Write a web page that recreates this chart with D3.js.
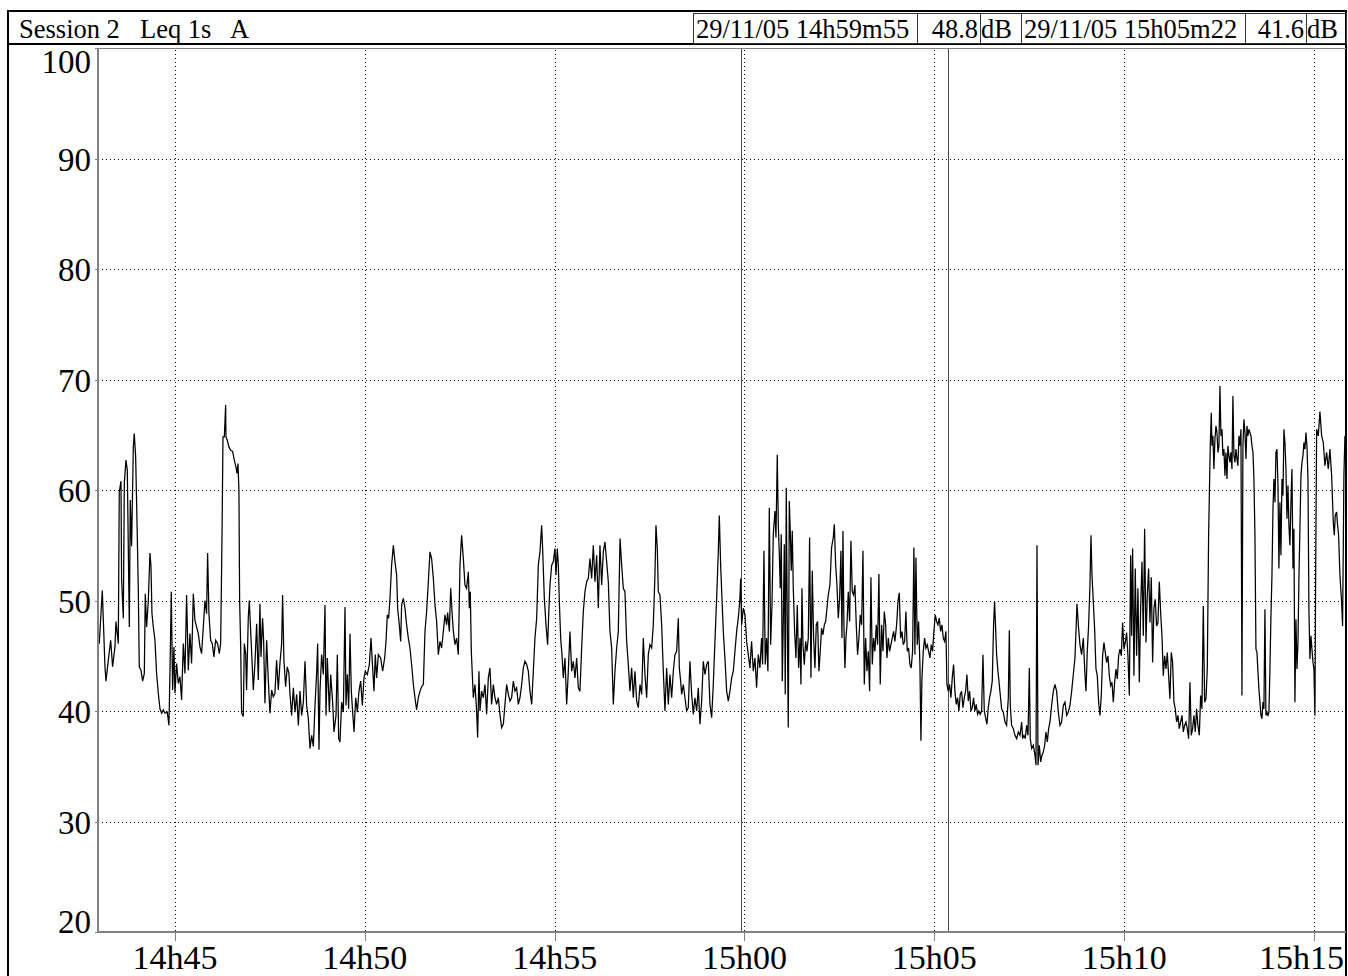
<!DOCTYPE html>
<meta charset="utf-8">
<style>
body { margin: 0; background: #fff; }
svg { display: block; font-family: "Liberation Serif", "Times New Roman", serif; }
.grid line { stroke: #000; stroke-width: 1; stroke-dasharray: 1,3; shape-rendering: crispEdges; }
.frame { stroke: #000; stroke-width: 2; fill: none; shape-rendering: crispEdges; }
.plotline { stroke: #808080; stroke-width: 1.5; shape-rendering: crispEdges; }
.box { fill: none; stroke: #333; stroke-width: 1; shape-rendering: crispEdges; }
.cursor { stroke: #4a4a4a; stroke-width: 1; shape-rendering: crispEdges; }
.trace { fill: none; stroke: #000; stroke-width: 1.25; stroke-linejoin: miter; }
</style>
<svg width="1348" height="976"></svg>
<script src="https://cdn.jsdelivr.net/npm/d3@7"></script>
<script>

// Leq 1s (dB(A)), time in seconds after 14h40m00
var trace14h43 = [[180.4,46.1],[185.2,50.9],[189.4,44.0],[191,42.7],[194.7,44.6],[198.4,46.4],[201.5,44.0],[205.2,45.8],[206.8,48.1],[210.5,46.1],[212,59.8],[214.7,60.8],[215.7,51.9],[218.4,48.4],[220,60.6],[222.6,62.7],[224.7,61.8],[227.9,47.6],[229.4,59.1],[231.5,54.9],[234.2,63.9],[235.7,65.1],[237.9,63.0],[240.5,55.8],[242.1,50.9],[243.6,44.0],[246.3,43.7],[248.9,42.7],[251.6,43.4],[253.1,50.6],[255.2,47.6],[257.9,50.0],[260.5,54.3],[262.1,53.1],[263.7,48.8],[265.8,47.6],[268.4,46.4],[271,43.4],[273.7,41.6],[276.3,40.2],[279,39.8],[281.6,40.1],[284.2,39.8],[287.9,39.9],[290.5,38.7],[292.1,43.4],[294.2,50.8],[296.3,41.9],[298.4,45.8],[300,41.6],[302.6,44.3],[305.3,42.5],[307.9,43.1],[310.5,41.0],[313.2,46.1],[315.8,43.4],[318.4,50.5],[321.1,43.7],[323.7,47.0],[326.3,44.3],[329,50.6],[331.6,48.2],[336.9,47.0],[339.5,45.8],[342.1,45.2],[344.8,47.6],[347.4,50.0],[350,48.8],[351.6,54.3],[353.7,48.8],[356.4,46.4],[359,46.1],[361.6,44.9],[364.3,46.4],[367.4,46.1],[370.1,45.2],[372.2,46.1],[374.3,55.5],[375.9,64.8],[378,64.8],[380.1,67.7],[380.6,64.8],[382.7,64.5],[385.3,63.9],[388,63.6],[391.1,63.5],[393.8,62.7],[396.4,62.1],[398,61.5],[399.6,62.4],[401.1,60.0],[402.2,50.0],[403.8,46.1],[405.3,39.8],[408,39.5],[409.6,46.1],[411.7,45.2],[413.2,41.9],[415.9,48.5],[417.5,50.0],[419.6,47.3],[422.2,44.0],[423.8,41.9],[426.4,44.3],[429.1,47.9],[431.7,42.8],[434.3,49.7],[435.9,44.9],[438.5,48.4],[440.1,46.4],[442.2,40.7],[444.9,46.4],[447.5,42.8],[450.1,39.8],[452.8,41.9],[455.4,41.3],[458,41.6],[460.6,44.6],[463.3,41.9],[465.9,44.3],[468.6,46.1],[470.1,50.5],[472.2,44.6],[474.9,42.2],[477.5,44.0],[480.1,43.4],[481.7,41.6],[484.4,39.6],[487.1,42.1],[489.7,39.9],[492.3,41.5],[495,38.7],[497.6,41.8],[500.2,39.6],[502.9,40.8],[505.5,44.5],[508.1,40.5],[510.8,39.3],[513.4,36.6],[516,37.8],[518.7,36.8],[521.3,40.5],[524,43.6],[525.5,46.1],[527.6,36.5],[529.2,41.8],[531.8,45.1],[534.5,43.3],[537.1,49.6],[538.7,39.6],[540.8,44.8],[544,39.9],[546.1,43.3],[549.2,40.8],[551.3,38.1],[554.5,39.6],[556.6,45.1],[558.7,37.5],[560.8,37.2],[563.4,40.8],[566.1,39.9],[568.7,49.4],[570.3,40.5],[572.4,43.3],[574.5,40.2],[576.6,47.0],[578.7,41.8],[580.8,39.9],[583,38.1],[585.6,41.2],[588.2,39.9],[590.8,41.8],[593.5,42.7],[596.1,40.5],[598.7,43.0],[600.8,43.6],[604,43.3],[607.2,44.2],[609.8,46.6],[612.4,43.9],[614.5,41.8],[616.6,45.1],[618.7,43.0],[621.4,45.1],[625.1,44.8],[628.2,43.6],[631.4,44.8],[633.5,46.3],[635.6,48.7],[637.7,48.4]];

var trace14h50 = [[639.8,50.2],[642.4,53.2],[645.1,55.0],[647.7,53.5],[650.3,52.3],[651.9,49.3],[654.5,47.8],[656.7,46.3],[658.2,49.6],[660.9,50.2],[663.5,49.3],[666.1,47.8],[668.8,46.6],[671.4,45.7],[674,44.2],[676.7,42.4],[679.3,41.2],[681.9,40.1],[684.6,41.2],[687.2,41.8],[689.8,42.2],[692.5,42.4],[695.1,47.2],[697.7,49.0],[700.4,51.7],[703,54.4],[705.6,53.8],[708.3,52.0],[710.9,49.6],[713.5,48.1],[716.2,45.1],[718.8,46.3],[721.4,45.7],[724.1,47.2],[726.7,48.7],[729.3,47.8],[730.9,48.9],[733.6,47.2],[735.7,51.1],[737.8,49.0],[739.9,47.2],[742.5,46.0],[745.1,46.6],[747.8,45.1],[750.4,53.2],[753,55.9],[755.7,53.8],[758.3,51.4],[760.9,51.1],[763.6,52.6],[765.2,49.3],[766.7,50.8],[768.3,45.4],[771.5,41.2],[774.1,42.4],[776.7,40.0],[778.3,37.6],[780.4,43.6],[782,40.0],[784.6,41.8],[787.3,41.2],[789.9,42.4],[792.5,39.7],[795.2,43.0],[797.8,43.9],[800.4,40.6],[803.1,42.4],[805.7,41.2],[808.3,40.6],[811,41.2],[813.6,39.7],[816.2,38.5],[818.9,38.8],[821.5,40.6],[824.1,42.4],[826.8,41.5],[829.4,40.9],[832,41.2],[834.7,42.7],[837.3,41.8],[839.9,42.1],[842.6,40.6],[845.2,41.2],[847.9,42.4],[850.5,43.9],[853.1,44.5],[855.8,44.2],[858.4,43.6],[861,41.8],[863.7,40.6],[866.3,43.6],[868.9,46.6],[871.6,48.4],[874.2,53.2],[876.8,54.4],[879.5,56.8],[881,54.7],[883.7,50.2],[886.3,47.8],[888.9,46.0],[891,49.3],[892.6,51.4],[895.3,53.2],[897.9,53.5],[900.5,54.7],[902.1,52.3],[904.2,54.7],[905.8,53.2],[907.4,49.9],[909.5,46.6],[911.6,45.1],[913.7,43.0],[916.3,44.8],[919,40.6],[921.6,43.6],[924.2,47.2],[926.9,43.6],[929.5,44.5],[932.1,43.0],[934.8,44.8],[937.4,42.1],[940,41.8],[942.7,45.7],[945.3,49.0],[947.9,50.8],[950.6,51.7],[953.2,52.0],[955.8,53.8],[958.5,52.0],[961.1,55.0],[963.7,51.7],[966.4,54.1],[969,49.3],[971.6,55.0],[974.3,51.4],[976.9,54.4],[979.5,55.3],[982.2,53.5],[984.8,51.7],[987.4,47.2],[990.1,45.7],[992.7,40.6],[995.3,43.6],[998,45.7],[1000.6,47.2],[1003.3,55.6],[1005.9,53.2],[1008.5,51.1],[1011.1,50.8],[1013.8,46.3],[1016.4,44.2],[1019,41.8],[1021.7,43.9],[1024.3,41.2],[1026.9,43.6],[1029.6,40.9],[1032.2,40.3],[1034.9,42.4],[1037.5,41.5],[1040.1,46.6],[1042.7,43.3],[1045.4,41.2],[1048,45.1],[1050.6,46.0],[1053.3,45.7],[1055.9,47.8],[1058.5,52.3],[1060.1,56.8],[1062.2,54.7],[1063.8,50.8],[1066.4,50.5],[1069.1,47.8],[1071.7,43.6],[1074.3,40.0],[1077,43.9],[1079.6,40.6],[1082.2,43.3],[1084.9,41.2],[1087.5,43.6],[1090.1,45.1],[1092.8,45.4],[1095.4,48.4],[1097,43.9],[1099.1,42.7],[1100.7,41.5],[1103.3,42.4],[1105.9,41.2],[1108.6,40.0],[1111.2,40.3],[1113.8,44.5],[1116.5,41.5],[1119.1,39.7],[1121.7,41.2],[1124.4,40.0],[1127,42.1],[1129.6,38.8],[1132.3,40.9],[1134.9,44.5],[1137.5,43.3],[1140.2,44.2],[1142.8,44.5],[1145.4,40.6],[1148.1,39.4],[1150.7,42.4],[1153.3,46.3],[1156,50.2],[1158.6,54.4],[1160.2,57.7],[1162.3,53.2],[1164.4,50.2],[1166.5,47.2],[1169.1,44.8],[1171.8,41.8],[1174.4,40.9],[1177,41.8],[1179.7,43.0],[1182.3,43.6],[1184.9,45.4],[1187.6,47.2],[1190.2,48.4],[1192.8,50.2],[1193.9,52.0],[1195.5,47.8],[1198.1,49.3],[1200.7,48.7],[1203.4,46.3]];

var trace15h00 = [[1206,45.1],[1208.6,43.9],[1211.2,46.3],[1213.9,43.6],[1216.5,44.8],[1219.1,42.1],[1221.8,45.1],[1224.4,43.9],[1227,46.6],[1228.6,44.2],[1230.7,54.5],[1232.8,44.2],[1234.9,46.6],[1237,43.6],[1239.2,58.4],[1241.3,46.0],[1243.4,49.6],[1245.5,56.0],[1248.1,58.1],[1249.7,55.7],[1251.8,63.2],[1253.4,56.9],[1255,54.2],[1256.5,51.1],[1258.1,56.0],[1259.7,42.7],[1261.3,48.1],[1262.9,55.1],[1264.4,41.5],[1266,60.2],[1267.6,48.1],[1269.2,38.5],[1270.8,59.0],[1272.3,56.3],[1273.9,52.7],[1275.5,56.3],[1277.1,51.1],[1279.2,47.2],[1281.3,44.8],[1283.4,49.6],[1285.5,43.9],[1287.7,46.6],[1289.2,42.4],[1290.8,51.1],[1292.4,46.0],[1294.5,44.2],[1296.6,46.3],[1298.7,45.4],[1300.8,46.6],[1302.9,55.7],[1305,43.0],[1307.1,52.7],[1309.2,46.6],[1311.3,43.9],[1313.4,47.8],[1315.5,48.1],[1317.6,43.6],[1319.7,45.4],[1321.8,47.5],[1324,46.9],[1326.1,47.8],[1328.2,48.1],[1330.3,49.3],[1332.4,50.5],[1335,51.4],[1337.6,54.8],[1340.3,55.7],[1341.9,56.9],[1344,53.3],[1346.1,51.4],[1348.2,48.4],[1350.3,50.2],[1352.4,54.5],[1354,46.6],[1355.6,56.3],[1357.1,47.8],[1358.7,43.9],[1360.3,46.6],[1361.9,47.8],[1364,50.8],[1366.1,48.1],[1368.2,55.4],[1370.3,50.8],[1372.4,50.5],[1374.5,51.4],[1376.6,47.8],[1378.7,45.1],[1380.8,46.6],[1382.9,48.7],[1385.1,47.8],[1387.2,54.5],[1389.3,42.4],[1391.4,46.6],[1393.5,43.6],[1395.6,45.4],[1397.7,41.8],[1399.8,52.1],[1401.9,44.2],[1404,46.6],[1406.1,45.4],[1408.2,47.8],[1410.3,46.0],[1412.4,52.4],[1414.5,42.4],[1416.7,47.8],[1418.8,45.4],[1420.9,49.0],[1423,47.8],[1425.1,44.8],[1427.2,46.6],[1429.3,45.4],[1431.4,46.0],[1433.5,46.6],[1435.6,47.2],[1437.7,46.3],[1440.4,47.8],[1442.5,49.9],[1444.6,50.7],[1446.7,46.6],[1448.8,47.2],[1450.9,46.0],[1453,46.3],[1455.1,49.0],[1457.2,45.4],[1459.3,45.7],[1461.4,44.2],[1463.5,43.9],[1465.6,45.4],[1467.7,54.8],[1469.3,45.1],[1470.9,53.9],[1473,46.0],[1475.1,48.1],[1477.2,44.2],[1478.8,37.3],[1480.4,43.0],[1482.5,45.4],[1484.6,46.6],[1486.7,45.7],[1488.8,46.0],[1490.9,45.4],[1493,44.8],[1495.1,46.0],[1497.2,45.4],[1499.3,47.2],[1501.4,48.7],[1503.6,48.1],[1505.7,47.8],[1507.8,48.4],[1509.9,47.2],[1512,47.8],[1514.1,46.6],[1516.2,46.3],[1518.3,47.2],[1519.9,42.4],[1522,41.8],[1524.1,42.4],[1526.2,41.2],[1528.3,43.0],[1530.4,44.2],[1532.5,41.8],[1534.6,40.6],[1536.7,41.2],[1538.8,40.0],[1540.9,41.5],[1543,41.8],[1545.2,40.3],[1547.3,41.2],[1549.4,41.8],[1551.5,43.3],[1553.6,40.9],[1555.7,41.8],[1557.8,40.0],[1559.9,40.3],[1562,41.2],[1564.1,40.0],[1566.2,40.6],[1568.3,39.7],[1570.4,40.0],[1572.5,39.7],[1574.7,40.0],[1576.8,45.1],[1578.9,40.0],[1581,39.4],[1583.1,38.8],[1585.2,40.3],[1587.3,41.2],[1589.4,41.8],[1591.5,42.7],[1593.6,47.8],[1595.2,49.9],[1596.8,47.5],[1598.4,45.1],[1600.5,43.6],[1602.6,42.4]];

var trace15h06 = [[1606.3,40.2],[1609,39.9],[1611.6,39.0],[1614.2,38.7],[1616.9,41.2],[1618.5,47.3],[1620,40.5],[1622.1,38.7],[1624.8,38.4],[1627.4,37.8],[1630.1,37.5],[1632.7,38.1],[1635.3,37.8],[1638,39.0],[1639.5,37.5],[1641.6,37.8],[1643.7,37.5],[1645.8,38.7],[1648,37.8],[1650.1,43.9],[1651.6,37.5],[1653.7,36.6],[1656.4,36.9],[1659,36.0],[1660.6,35.1],[1662.2,55.0],[1663.8,35.1],[1665.9,36.9],[1668,35.4],[1670.1,36.0],[1672.2,36.3],[1674.3,36.9],[1676.4,38.1],[1678.5,37.2],[1680.6,38.4],[1682.7,39.0],[1685.3,40.5],[1688,41.8],[1690.6,42.4],[1693.2,41.8],[1695.9,39.9],[1698.5,38.7],[1701.1,39.0],[1703.8,40.5],[1706.4,40.8],[1709.1,39.6],[1711.7,39.9],[1714.3,40.5],[1717,41.8],[1719.6,43.3],[1722.2,44.8],[1723.8,47.2],[1725.4,49.7],[1727.5,47.8],[1730.1,46.0],[1732.7,45.1],[1735.4,46.6],[1738,43.3],[1739.6,41.8],[1741.7,45.4],[1743.8,47.8],[1745.9,51.4],[1747.5,55.9],[1749.1,52.3],[1751.2,49.9],[1753.3,47.4],[1755.4,43.8],[1757.5,43.2],[1759.6,40.8],[1761.7,39.6],[1763.8,41.4],[1765.9,45.0],[1768,46.2],[1770.1,45.3],[1772.2,44.4],[1774.3,45.0],[1776.5,43.2],[1778.6,42.3],[1780.7,42.6],[1782.8,40.8],[1784.9,42.6],[1787,43.8],[1789.1,42.9],[1791.2,45.0],[1793.3,45.6],[1795.4,45.0],[1797.5,48.0],[1799.6,45.6],[1801.7,46.2],[1803.8,47.1],[1805.9,45.0],[1808.1,41.4],[1810.2,54.1],[1811.7,46.8],[1813.3,54.7],[1815.4,43.2],[1817.5,52.9],[1819.6,45.0],[1821.7,51.1],[1823.9,42.6],[1826,49.3],[1828.1,53.5],[1830.2,46.8],[1832.3,56.5],[1834.4,46.2],[1836.5,50.5],[1838.6,52.9],[1840.7,48.0],[1842.8,52.1],[1844.9,44.4],[1847,49.3],[1849.1,50.1],[1851.2,47.7],[1853.3,48.0],[1855.5,51.7],[1857.6,48.9],[1859.7,46.8],[1861.8,43.2],[1863.9,45.0],[1866,43.8],[1868.1,45.3],[1870.2,43.2],[1872.3,41.1],[1874.4,45.3],[1876.5,44.4],[1878.6,40.8],[1880.7,40.2],[1882.8,39.0],[1884.9,39.6],[1887.1,38.4],[1889.2,39.0],[1891.3,39.6],[1893.4,38.1],[1895.5,38.7],[1897.6,39.0],[1899.7,38.4],[1901.8,37.5],[1903.9,42.6],[1906,37.8],[1908.1,38.4],[1910.2,39.6],[1912.3,38.1],[1914.4,40.2],[1916.5,38.7],[1918.7,37.8],[1920.8,41.4],[1922.9,40.2],[1925,49.5],[1927.1,40.8],[1929.2,41.1],[1931.3,43.8],[1933.4,55.9]];

var trace15h12 = [[1936,64.0],[1937.6,67.0],[1938.7,64.0],[1940.2,64.9],[1941.8,61.9],[1943.4,64.6],[1945,65.8],[1946.6,65.2],[1948.2,63.4],[1949.7,64.0],[1951.3,69.4],[1952.9,64.9],[1954.5,65.5],[1956,63.1],[1957.6,63.7],[1959.2,61.3],[1960.8,63.4],[1962.4,61.0],[1963.9,64.0],[1965.5,63.1],[1967.1,62.5],[1968.7,63.4],[1970.3,61.9],[1971.8,68.5],[1973.4,63.1],[1975,62.5],[1976.6,63.7],[1978.2,62.8],[1979.7,62.2],[1981.3,64.9],[1982.9,64.0],[1984.5,65.5],[1986.1,41.4],[1987.6,64.0],[1989.2,66.4],[1990.8,65.2],[1992.4,62.8],[1994,65.8],[1995.5,64.9],[1997.1,65.5],[1998.7,65.2],[2000.3,64.9],[2001.9,64.0],[2003.5,63.4],[2005,61.0],[2006.6,55.9],[2008.2,45.6],[2009.8,45.3],[2011.4,43.5],[2012.9,42.0],[2014.5,40.8],[2016.1,39.6],[2017.7,39.3],[2019.3,40.8],[2020.8,40.2],[2022.4,49.2],[2024,39.6],[2025.6,39.9],[2027.2,39.6],[2028.7,39.9],[2030.3,43.8],[2031.9,48.6],[2033.5,52.3],[2035.1,58.3],[2036.6,61.0],[2038.2,58.9],[2039.8,63.4],[2041.4,63.7],[2043,60.4],[2044.5,52.9],[2046.1,58.9],[2047.7,54.1],[2049.3,61.0],[2050.9,59.5],[2052.4,65.5],[2054,64.3],[2055.6,61.9],[2057.2,57.4],[2058.8,60.4],[2060.3,56.8],[2061.9,55.0],[2063.5,58.9],[2065.1,61.9],[2066.7,52.9],[2068.2,56.5],[2069.8,40.8],[2071.4,48.3],[2073,43.8],[2074.6,46.2],[2076.1,52.0],[2077.7,56.5],[2079.3,61.3],[2080.9,62.5],[2082.5,63.1],[2084,64.3],[2085.6,63.7],[2087.2,65.2],[2088.8,64.0],[2090.4,61.0],[2091.9,49.2],[2093.5,44.7],[2095.1,46.8],[2096.7,45.6],[2098.3,44.4],[2099.8,43.8],[2101.4,39.6],[2102.5,52.0],[2104.1,65.5],[2106.7,64.9],[2109.3,67.1],[2112,64.9],[2114.6,64.3],[2117.2,62.2],[2119.9,63.4],[2122.5,61.9],[2125.1,63.7],[2127.8,61.3],[2130.4,57.1],[2132,55.9],[2133.5,57.7],[2135.7,58.0],[2137.2,56.8],[2138.8,55.9],[2140.9,52.3],[2143.6,49.8],[2145.1,47.7],[2147.2,61.3],[2148.8,64.9],[2150.4,64.0]];

var yTicks = [20, 30, 40, 50, 60, 70, 80, 90, 100];
var titleParts = ["Session 2", "Leq 1s", "A"];
var cursorLabels = ["29/11/05 14h59m55", "29/11/05 15h05m22"];
var cursorTimes = [1195, 1522];          // seconds after 14h40m00
var cursorValues = ["48.8", "41.6"];
var unit = "dB";
var timeStart = 178.4, timeEnd = 2150.5;

var svg = d3.select("svg"),
    margin = {top: 48, right: 2, bottom: 44, left: 98},
    width = +svg.attr("width") - margin.left - margin.right,
    height = +svg.attr("height") - margin.top - margin.bottom;

var t0 = new Date(2005, 10, 29, 14, 40, 0);
function toDate(s) { return new Date(t0.getTime() + s * 1000); }

var x = d3.scaleTime()
    .domain([toDate(timeStart), toDate(timeEnd)])
    .range([margin.left, margin.left + width]);
var y = d3.scaleLinear().domain([20, 100]).range([margin.top + height, margin.top]);

var fmt = d3.timeFormat("%Hh%M");
var xTicks = x.ticks(d3.timeMinute.every(5));

// outer frame + header row
svg.append("path").attr("class", "frame")
    .attr("d", "M8,980V11H1346V980M8,44H1346");

// header cells
var cells = [[693, 917], [917, 980], [980, 1021], [1021, 1245], [1245, 1306], [1306, 1346]];
svg.selectAll("rect.box").data(cells).enter().append("rect")
    .attr("class", "box")
    .attr("x", function(d) { return d[0] + 0.5; })
    .attr("y", 13.5)
    .attr("width", function(d) { return d[1] - d[0]; })
    .attr("height", 30);

var head = svg.append("g").attr("font-size", 26.5).attr("fill", "#000");
var titleX = [19, 140, 230];
head.selectAll("text.title").data(titleParts).enter().append("text")
    .attr("x", function(d, i) { return titleX[i]; })
    .attr("y", 38)
    .text(function(d) { return d; });

cursorLabels.forEach(function(lab, i) {
  var c0 = cells[i * 3];
  head.append("text").attr("x", c0[0] + 3).attr("y", 38).text(lab);
  head.append("text").attr("x", cells[i * 3 + 1][1] - 2).attr("y", 38)
      .attr("text-anchor", "end").text(cursorValues[i]);
  head.append("text").attr("x", cells[i * 3 + 2][0] + 1).attr("y", 38).text(unit);
});

// grid
var grid = svg.append("g").attr("class", "grid");
grid.selectAll("line.h").data(yTicks.filter(function(d) { return d > 20 && d < 100; }))
  .enter().append("line")
    .attr("x1", margin.left).attr("x2", margin.left + width)
    .attr("y1", function(d) { return Math.round(y(d)) + 0.5; })
    .attr("y2", function(d) { return Math.round(y(d)) + 0.5; });
grid.selectAll("line.v").data(xTicks).enter().append("line")
    .attr("x1", function(d) { return Math.round(x(d)) + 0.5; })
    .attr("x2", function(d) { return Math.round(x(d)) + 0.5; })
    .attr("y1", margin.top + 2).attr("y2", margin.top + height);

// cursors
svg.selectAll("line.cursor").data(cursorTimes).enter().append("line")
    .attr("class", "cursor")
    .attr("x1", function(d) { return Math.round(x(toDate(d))) + 0.5; })
    .attr("x2", function(d) { return Math.round(x(toDate(d))) + 0.5; })
    .attr("y1", margin.top).attr("y2", margin.top + height);

// trace
svg.append("clipPath").attr("id", "clip").append("rect")
    .attr("x", margin.left).attr("y", margin.top).attr("width", width).attr("height", height);

var line = d3.line()
    .x(function(d) { return x(toDate(d[0])); })
    .y(function(d) { return y(d[1]); });

var trace = [].concat(trace14h43, trace14h50, trace15h00, trace15h06, trace15h12);
svg.append("path").attr("class", "trace")
    .attr("clip-path", "url(#clip)")
    .datum(trace)
    .attr("d", line);

// plot border lines
svg.append("path").attr("class", "plotline").attr("fill", "none")
    .attr("d", "M" + (margin.left + width) + "," + (margin.top + 0.5) + "H" + margin.left + "V" + (margin.top + height) + "H" + (margin.left + width));

// ticks
svg.selectAll("line.xt").data(xTicks).enter().append("line")
    .attr("class", "plotline")
    .attr("x1", function(d) { return Math.round(x(d)) + 0.5; })
    .attr("x2", function(d) { return Math.round(x(d)) + 0.5; })
    .attr("y1", margin.top + height).attr("y2", margin.top + height + 9);
svg.selectAll("line.yt").data(yTicks).enter().append("line")
    .attr("class", "plotline")
    .attr("x1", margin.left - 3).attr("x2", margin.left)
    .attr("y1", function(d) { return Math.round(y(d)) + 0.5; })
    .attr("y2", function(d) { return Math.round(y(d)) + 0.5; });

// tick labels; the last one is pushed left so it stays inside the frame
var xl = svg.selectAll("text.xl").data(xTicks).enter().append("text")
    .attr("x", function(d) { return x(d); })
    .attr("y", 969)
    .attr("font-size", 34)
    .attr("text-anchor", "middle")
    .text(fmt);
xl.each(function() {
  var b = this.getBBox();
  if (b.x + b.width > 1344) {
    d3.select(this).attr("text-anchor", "end").attr("x", 1344);
  }
});

svg.selectAll("text.yl").data(yTicks).enter().append("text")
    .attr("x", 91)
    .attr("y", function(d) {
      var b = y(d) + 12;
      return Math.max(margin.top + 25, Math.min(margin.top + height + 1, b));
    })
    .attr("font-size", 33)
    .attr("text-anchor", "end")
    .text(function(d) { return d; });

</script>
